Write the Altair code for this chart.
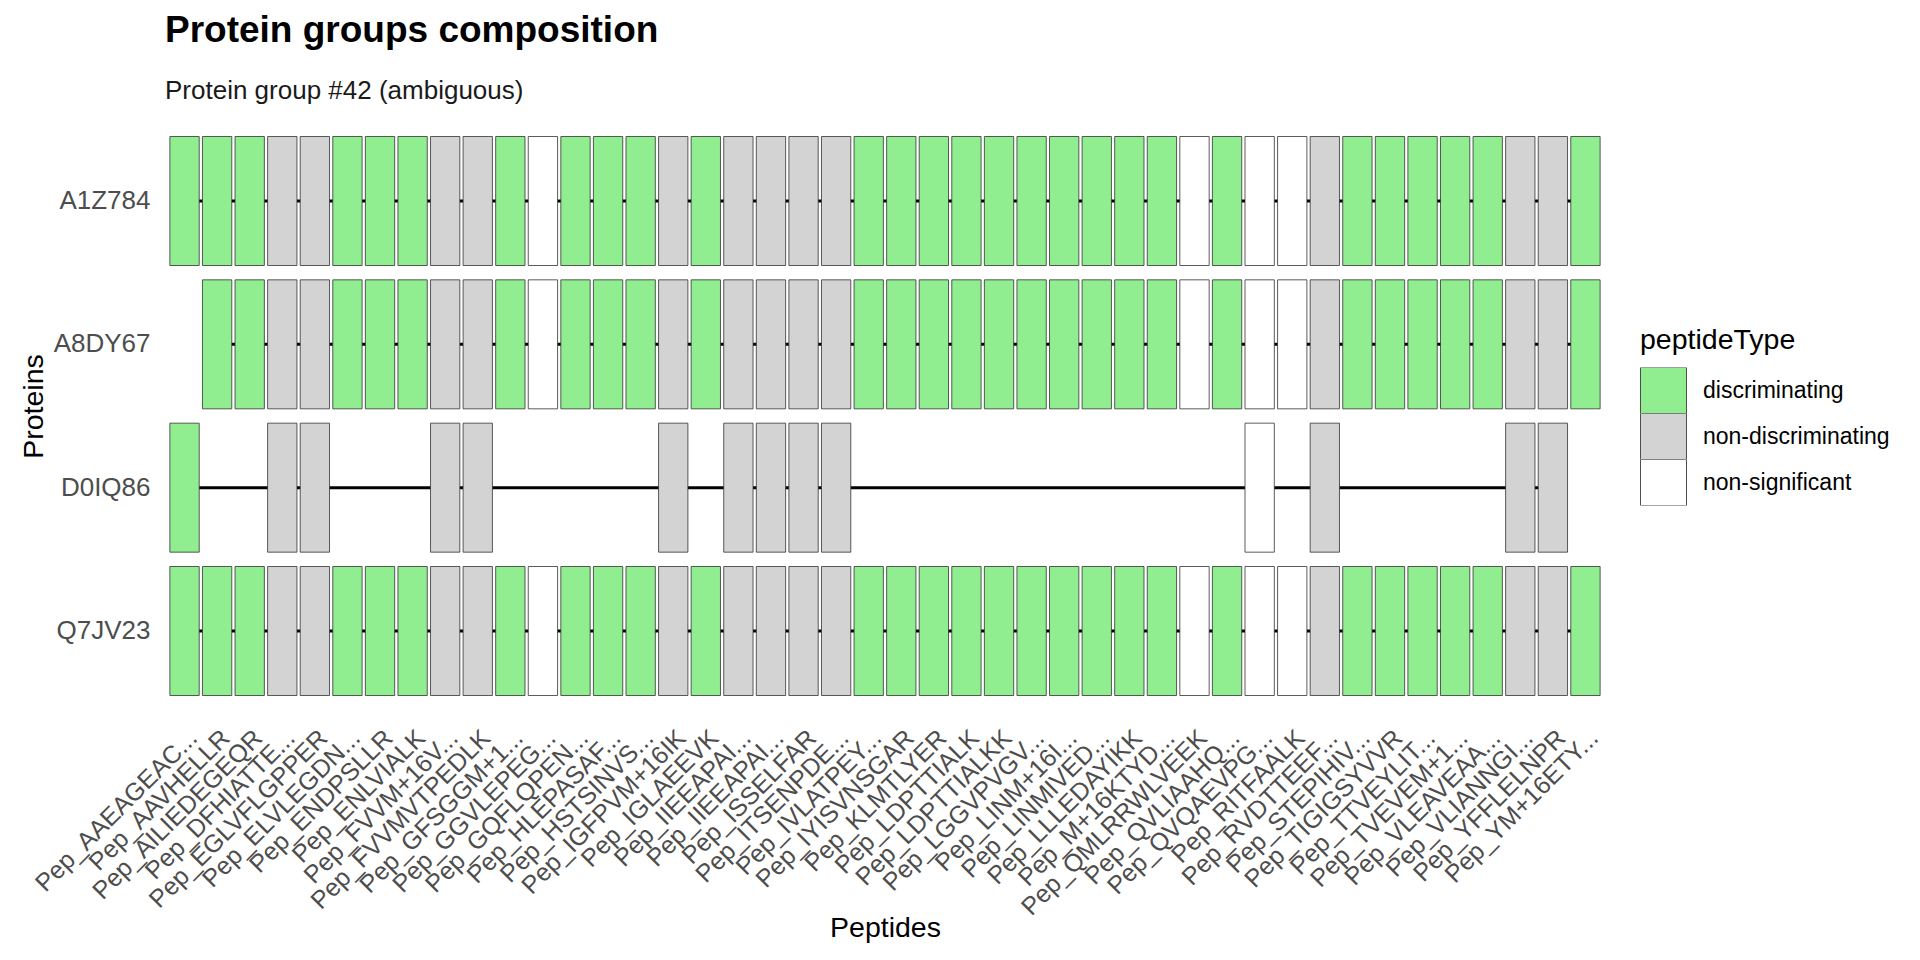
import json
import altair as alt
import pandas as pd

title_text = "Protein groups composition"
group_label = "Protein group #42 (ambiguous)"
x_title = "Peptides"
y_title = "Proteins"
legend_title = "peptideType"

proteins = ["A1Z784", "A8DY67", "D0IQ86", "Q7JV23"]

peptides = [
    "Pep_AAEAGEAC...", "Pep_AAVHELLR", "Pep_AILIEDEGEQR", "Pep_DFHIATTE...",
    "Pep_EGLVFLGPPER", "Pep_ELVLEGDN...", "Pep_ENDPSLLR", "Pep_ENLVIALK",
    "Pep_FVVM+16V...", "Pep_FVVMVTPEDLK", "Pep_GFSGGM+1...", "Pep_GGVLEPEG...",
    "Pep_GQFLQPEN...", "Pep_HLEPASAF...", "Pep_HSTSINVS...", "Pep_IGFPVM+16IK",
    "Pep_IGLAEEVK", "Pep_IIEEAPAI...", "Pep_IIEEAPAI...", "Pep_ISSELFAR",
    "Pep_ITSENPDE...", "Pep_IVLATPEY...", "Pep_IYISVNSGAR", "Pep_KLMTLYER",
    "Pep_LDPTTIALK", "Pep_LDPTTIALKK", "Pep_LGGVPVGV...", "Pep_LINM+16I...",
    "Pep_LINMIVED...", "Pep_LLLEDAYIKK", "Pep_M+16KTYD...", "Pep_QMLRRWLVEEK",
    "Pep_QVLIAAHQ...", "Pep_QVQAEVPG...", "Pep_RITFAALK", "Pep_RVDTTEEF...",
    "Pep_STEPIHIV...", "Pep_TIGIGSYVVR", "Pep_TTVEYLIT...", "Pep_TVEVEM+1...",
    "Pep_VLEAVEAA...", "Pep_VLIANNGI...", "Pep_YFFLELNPR", "Pep_YM+16ETY...",
]

# D = discriminating, N = non-discriminating, S = non-significant
peptide_type_codes = [
    "D", "D", "D", "N", "N", "D", "D", "D", "N", "N", "D",
    "S", "D", "D", "D", "N", "D", "N", "N", "N", "N", "D",
    "D", "D", "D", "D", "D", "D", "D", "D", "D", "S", "D",
    "S", "S", "N", "D", "D", "D", "D", "D", "N", "N", "D",
]
type_names = {"D": "discriminating", "N": "non-discriminating", "S": "non-significant"}
type_domain = ["discriminating", "non-discriminating", "non-significant"]
type_colors = ["#90EE90", "#D3D3D3", "#FFFFFF"]

# 1 = peptide belongs to the protein
membership = {
    "A1Z784": [1, 1, 1, 1, 1, 1, 1, 1, 1, 1, 1, 1, 1, 1, 1, 1, 1, 1, 1, 1, 1, 1,
               1, 1, 1, 1, 1, 1, 1, 1, 1, 1, 1, 1, 1, 1, 1, 1, 1, 1, 1, 1, 1, 1],
    "A8DY67": [0, 1, 1, 1, 1, 1, 1, 1, 1, 1, 1, 1, 1, 1, 1, 1, 1, 1, 1, 1, 1, 1,
               1, 1, 1, 1, 1, 1, 1, 1, 1, 1, 1, 1, 1, 1, 1, 1, 1, 1, 1, 1, 1, 1],
    "D0IQ86": [1, 0, 0, 1, 1, 0, 0, 0, 1, 1, 0, 0, 0, 0, 0, 1, 0, 1, 1, 1, 1, 0,
               0, 0, 0, 0, 0, 0, 0, 0, 0, 0, 0, 1, 0, 1, 0, 0, 0, 0, 0, 1, 1, 0],
    "Q7JV23": [1, 1, 1, 1, 1, 1, 1, 1, 1, 1, 1, 1, 1, 1, 1, 1, 1, 1, 1, 1, 1, 1,
               1, 1, 1, 1, 1, 1, 1, 1, 1, 1, 1, 1, 1, 1, 1, 1, 1, 1, 1, 1, 1, 1],
}

rows = []
for prot in proteins:
    for i, present in enumerate(membership[prot]):
        if present:
            rows.append({
                "protein": prot,
                "pep": i,
                "peptide": peptides[i],
                "peptideType": type_names[peptide_type_codes[i]],
            })
df = pd.DataFrame(rows)

FONT = "Liberation Sans"
label_expr = json.dumps(peptides) + "[datum.value]"

x_enc = alt.X(
    "pep:O",
    scale=alt.Scale(domain=list(range(len(peptides))), paddingInner=0.1, paddingOuter=0.15),
    axis=alt.Axis(
        title=x_title,
        labelExpr=label_expr,
        labelAngle=-45,
        labelAlign="right",
        labelBaseline="top",
        labelFontSize=25,
        labelColor="#4D4D4D",
        labelPadding=8,
        labelLimit=500,
        labelOverlap=False,
        ticks=False,
        domain=False,
        grid=False,
        titleFontSize=28.5,
        titleFontWeight="normal",
        titleColor="#000000",
        titleBaseline="top",
        titleY=196,
    ),
)
y_enc = alt.Y(
    "protein:N",
    scale=alt.Scale(domain=proteins, paddingInner=0.1, paddingOuter=0.15),
    axis=alt.Axis(
        title=y_title,
        labelFontSize=26,
        labelColor="#4D4D4D",
        labelPadding=15,
        ticks=False,
        domain=False,
        grid=False,
        titleFontSize=28.5,
        titleFontWeight="normal",
        titleColor="#000000",
        titleAngle=270,
        titleAlign="center",
        titleBaseline="middle",
        titleX=-132,
        titleY=291,
    ),
)

lines = alt.Chart(df).mark_line(color="#000000", strokeWidth=3).encode(
    x=x_enc, y=y_enc, detail="protein:N"
)

tiles = alt.Chart(df).mark_rect(stroke="#333333", strokeOpacity=0.8, strokeWidth=1).encode(
    x=x_enc,
    y=y_enc,
    color=alt.Color(
        "peptideType:N",
        scale=alt.Scale(domain=type_domain, range=type_colors),
        legend=alt.Legend(
            title=legend_title,
            orient="none",
            legendX=1475,
            legendY=211,
            titleFontSize=28.5,
            titleFontWeight="normal",
            titleColor="#000000",
            titlePadding=13,
            labelFontSize=23,
            labelColor="#000000",
            labelOffset=16,
            labelLimit=400,
            symbolType="square",
            symbolSize=2116,
            symbolStrokeColor="#4D4D4D",
            symbolStrokeWidth=1,
            symbolOpacity=1,
            clipHeight=46,
            rowPadding=0,
        ),
    ),
)

chart = alt.layer(lines, tiles).properties(
    width=1440,
    height=602,
    padding={"left": 157, "top": 107, "right": 307, "bottom": 235},
    autosize=alt.AutoSizeParams(type="none"),
    title=alt.TitleParams(
        text=title_text,
        subtitle=group_label,
        anchor="start",
        frame="group",
        font=FONT,
        fontSize=37,
        fontWeight="bold",
        color="#000000",
        subtitleFont=FONT,
        subtitleFontSize=26,
        subtitleColor="#1A1A1A",
        subtitlePadding=28,
        offset=10,
    ),
).configure(font=FONT, background="#FFFFFF").configure_view(stroke=None)

chart.save("out.html", embed_options={"renderer": "svg", "actions": False})
